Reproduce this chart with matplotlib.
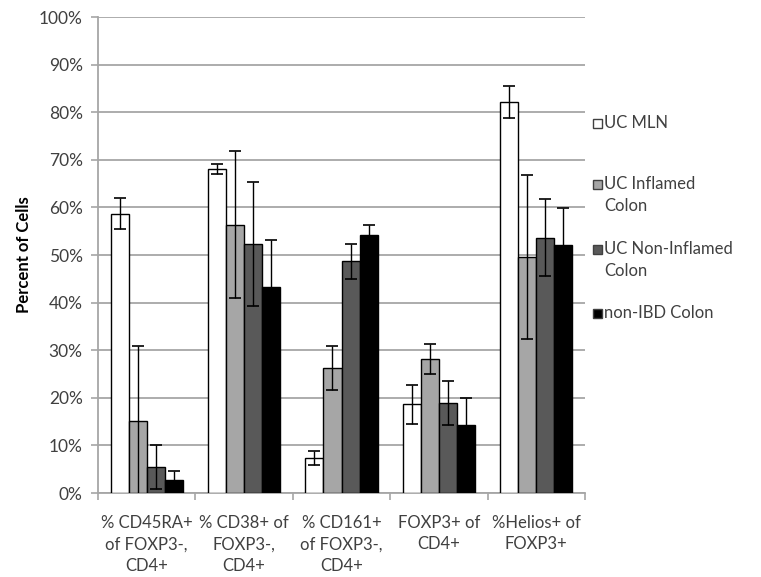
import numpy as np
import matplotlib.pyplot as plt
from matplotlib.patches import Rectangle

plt.rcParams['font.family'] = ['Lato', 'DejaVu Sans']

categories = ['% CD45RA+\nof FOXP3-,\nCD4+', '% CD38+ of\nFOXP3-,\nCD4+',
              '% CD161+\nof FOXP3-,\nCD4+', 'FOXP3+ of\nCD4+', '%Helios+ of\nFOXP3+']
series = ['UC MLN', 'UC Inflamed\nColon', 'UC Non-Inflamed\nColon', 'non-IBD Colon']

uc_mln = [58.7, 68.1, 7.3, 18.6, 82.2]
uc_inflamed = [15.2, 56.4, 26.3, 28.2, 49.6]
uc_noninflamed = [5.4, 52.3, 48.7, 18.9, 53.6]
non_ibd = [2.7, 43.2, 54.3, 14.3, 52.2]

err_mln = [3.2, 1.1, 1.5, 4.0, 3.4]
err_inflamed = [15.7, 15.4, 4.6, 3.1, 17.3]
err_noninflamed = [4.6, 13.0, 3.7, 4.7, 8.1]
err_nonibd = [1.9, 10.0, 2.1, 5.6, 7.7]

values = [uc_mln, uc_inflamed, uc_noninflamed, non_ibd]
errors = [err_mln, err_inflamed, err_noninflamed, err_nonibd]
colors = ['white', '#A6A6A6', '#595959', 'black']

W, H = 761, 577
fig = plt.figure(figsize=(W / 100, H / 100), dpi=100)
ax = fig.add_axes([98 / W, 1 - 493 / H, 487 / W, 476 / H])

grid_col = '#A6A6A6'
text_col = '#404040'
x = np.arange(len(categories))
w = 0.185
for i, (vals, errs, col) in enumerate(zip(values, errors, colors)):
    pos = x + (i - 1.5) * w
    ax.bar(pos, vals, width=w, color=col, edgecolor='black', linewidth=1.0, zorder=3)
    ax.errorbar(pos, vals, yerr=errs, fmt='none', ecolor='black', elinewidth=1.0,
                capsize=4, capthick=1.2, zorder=4)

ax.set_xlim(-0.5, len(categories) - 0.5)
ax.set_ylim(0, 100)
ax.set_yticks(np.arange(0, 101, 10))
ax.set_yticklabels([f'{v}%' for v in range(0, 101, 10)], fontsize=12.5, color=text_col)
ax.yaxis.grid(True, color=grid_col, linewidth=1.3, zorder=0)
ax.set_axisbelow(True)

ax.set_xticks(x)
ax.set_xticklabels(categories, fontsize=12, color=text_col, linespacing=1.4)
ax.set_xticks(np.arange(-0.5, len(categories)), minor=True)
ax.tick_params(axis='x', which='major', length=0, pad=16)
ax.tick_params(axis='x', which='minor', length=5, color=grid_col, width=1.2)
ax.tick_params(axis='y', length=5, color=grid_col, width=1.2, pad=6)

for side in ['top', 'right']:
    ax.spines[side].set_visible(False)
for side in ['left', 'bottom']:
    ax.spines[side].set_color(grid_col)
    ax.spines[side].set_linewidth(1.3)

ax.set_ylabel('Percent of Cells', fontsize=12, fontweight='bold', color='black', labelpad=5)

# legend drawn by hand so the swatch sits on the first line of wrapped labels
legend_rows = [123, 184, 249, 313]
for label, col, row in zip(series, colors, legend_rows):
    fig.add_artist(Rectangle((593 / W, 1 - (row + 4.5) / H), 9 / W, 9 / H,
                             facecolor=col, edgecolor='#404040', linewidth=1.0,
                             transform=fig.transFigure))
    fig.text(604 / W, 1 - (row - 8) / H, label, fontsize=12, color=text_col,
             va='top', ha='left', linespacing=1.45)

fig.savefig('out.png', dpi=100, facecolor='white')
